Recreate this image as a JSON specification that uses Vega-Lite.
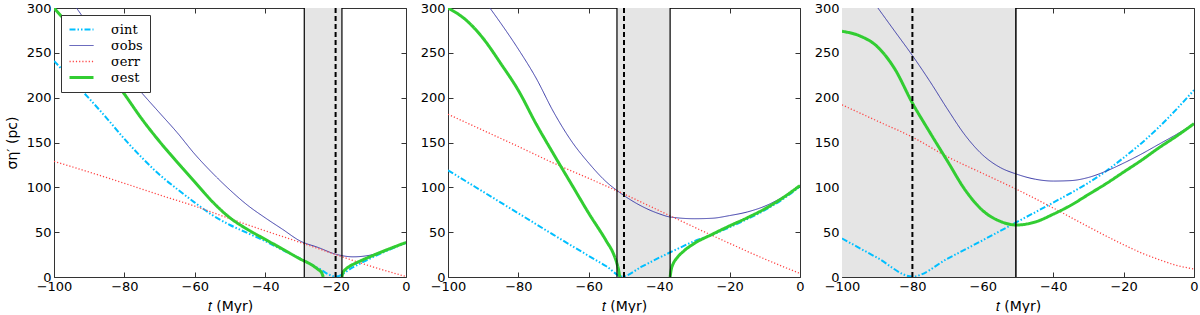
{
"$schema":"https://vega.github.io/schema/vega-lite/v6.json",
"padding":{"left":5,"top":2,"right":2,"bottom":0},
"background":"white",
"config":{"view":{"stroke":null},
 "axis":{"labelFont":"DejaVu Sans","labelFontSize":13,"labelColor":"#000","tickColor":"#333","domainColor":"#333","grid":false,"tickSize":-5,"labelPadding":8,"labelFlush":false,"labelOverlap":false,"titleFont":"DejaVu Sans","titleFontSize":14,"titleFontWeight":"normal","titleColor":"#000"}},
"datasets":{
"curves":[
{"p":1,"s":"int","g":"a","t":-100,"v":241},{"p":1,"s":"int","g":"a","t":-95,"v":220},{"p":1,"s":"int","g":"a","t":-90,"v":199},{"p":1,"s":"int","g":"a","t":-85,"v":177},{"p":1,"s":"int","g":"a","t":-80,"v":154},{"p":1,"s":"int","g":"a","t":-75,"v":133},{"p":1,"s":"int","g":"a","t":-70,"v":114},{"p":1,"s":"int","g":"a","t":-65,"v":98},{"p":1,"s":"int","g":"a","t":-60,"v":83},{"p":1,"s":"int","g":"a","t":-55,"v":69},{"p":1,"s":"int","g":"a","t":-50,"v":58},{"p":1,"s":"int","g":"a","t":-45,"v":49},{"p":1,"s":"int","g":"a","t":-40,"v":40},{"p":1,"s":"int","g":"a","t":-35,"v":30},{"p":1,"s":"int","g":"a","t":-30,"v":20.5},{"p":1,"s":"int","g":"a","t":-25,"v":10},{"p":1,"s":"int","g":"a","t":-20,"v":0.5},{"p":1,"s":"int","g":"a","t":-15,"v":11},{"p":1,"s":"int","g":"a","t":-10,"v":21},{"p":1,"s":"int","g":"a","t":-5,"v":30},{"p":1,"s":"int","g":"a","t":0,"v":38},
{"p":1,"s":"obs","g":"a","t":-93.6,"v":300},{"p":1,"s":"obs","g":"a","t":-90,"v":280},{"p":1,"s":"obs","g":"a","t":-85,"v":253},{"p":1,"s":"obs","g":"a","t":-80,"v":228},{"p":1,"s":"obs","g":"a","t":-75,"v":205},{"p":1,"s":"obs","g":"a","t":-70,"v":183},{"p":1,"s":"obs","g":"a","t":-65,"v":161},{"p":1,"s":"obs","g":"a","t":-60,"v":137},{"p":1,"s":"obs","g":"a","t":-55,"v":116},{"p":1,"s":"obs","g":"a","t":-50,"v":97},{"p":1,"s":"obs","g":"a","t":-45,"v":80},{"p":1,"s":"obs","g":"a","t":-40,"v":66},{"p":1,"s":"obs","g":"a","t":-35,"v":53},{"p":1,"s":"obs","g":"a","t":-30,"v":40},{"p":1,"s":"obs","g":"a","t":-25,"v":33},{"p":1,"s":"obs","g":"a","t":-20,"v":25.5},{"p":1,"s":"obs","g":"a","t":-15,"v":22.5},{"p":1,"s":"obs","g":"a","t":-10,"v":24.5},{"p":1,"s":"obs","g":"a","t":-5,"v":31},{"p":1,"s":"obs","g":"a","t":0,"v":39},
{"p":1,"s":"err","g":"a","t":-100,"v":129},{"p":1,"s":"err","g":"a","t":-90,"v":117},{"p":1,"s":"err","g":"a","t":-80,"v":104.5},{"p":1,"s":"err","g":"a","t":-70,"v":91.5},{"p":1,"s":"err","g":"a","t":-60,"v":79},{"p":1,"s":"err","g":"a","t":-50,"v":65},{"p":1,"s":"err","g":"a","t":-40,"v":51.5},{"p":1,"s":"err","g":"a","t":-30,"v":38.5},{"p":1,"s":"err","g":"a","t":-20,"v":25},{"p":1,"s":"err","g":"a","t":-10,"v":12},{"p":1,"s":"err","g":"a","t":0,"v":0.5},
{"p":1,"s":"est","g":"a","t":-100,"v":300},{"p":1,"s":"est","g":"a","t":-95,"v":278},{"p":1,"s":"est","g":"a","t":-90,"v":255},{"p":1,"s":"est","g":"a","t":-85,"v":231},{"p":1,"s":"est","g":"a","t":-80,"v":204},{"p":1,"s":"est","g":"a","t":-75,"v":176},{"p":1,"s":"est","g":"a","t":-70,"v":151},{"p":1,"s":"est","g":"a","t":-65,"v":128},{"p":1,"s":"est","g":"a","t":-60,"v":106},{"p":1,"s":"est","g":"a","t":-55,"v":84},{"p":1,"s":"est","g":"a","t":-50,"v":66},{"p":1,"s":"est","g":"a","t":-45,"v":53},{"p":1,"s":"est","g":"a","t":-40,"v":42},{"p":1,"s":"est","g":"a","t":-35,"v":31},{"p":1,"s":"est","g":"a","t":-30,"v":20},{"p":1,"s":"est","g":"a","t":-27,"v":14},{"p":1,"s":"est","g":"a","t":-25,"v":8.5},{"p":1,"s":"est","g":"a","t":-24,"v":5},{"p":1,"s":"est","g":"a","t":-23.5,"v":0},
{"p":1,"s":"est","g":"b","t":-18.2,"v":0},{"p":1,"s":"est","g":"b","t":-17.9,"v":5},{"p":1,"s":"est","g":"b","t":-17.2,"v":8.5},{"p":1,"s":"est","g":"b","t":-16,"v":12},{"p":1,"s":"est","g":"b","t":-14,"v":16},{"p":1,"s":"est","g":"b","t":-10,"v":23},{"p":1,"s":"est","g":"b","t":-5,"v":31},{"p":1,"s":"est","g":"b","t":0,"v":38.5},
{"p":2,"s":"int","g":"a","t":-100,"v":119},{"p":2,"s":"int","g":"a","t":-90,"v":95},{"p":2,"s":"int","g":"a","t":-80,"v":71},{"p":2,"s":"int","g":"a","t":-70,"v":47},{"p":2,"s":"int","g":"a","t":-60,"v":23.5},{"p":2,"s":"int","g":"a","t":-55,"v":12},{"p":2,"s":"int","g":"a","t":-50.5,"v":0.5},{"p":2,"s":"int","g":"a","t":-45,"v":11.5},{"p":2,"s":"int","g":"a","t":-40,"v":21.5},{"p":2,"s":"int","g":"a","t":-35,"v":31},{"p":2,"s":"int","g":"a","t":-30,"v":40},{"p":2,"s":"int","g":"a","t":-25,"v":47},{"p":2,"s":"int","g":"a","t":-20,"v":55.5},{"p":2,"s":"int","g":"a","t":-15,"v":64.5},{"p":2,"s":"int","g":"a","t":-10,"v":74.5},{"p":2,"s":"int","g":"a","t":-5,"v":86.5},{"p":2,"s":"int","g":"a","t":0,"v":101},
{"p":2,"s":"obs","g":"a","t":-88.1,"v":300},{"p":2,"s":"obs","g":"a","t":-85,"v":283},{"p":2,"s":"obs","g":"a","t":-80,"v":254},{"p":2,"s":"obs","g":"a","t":-75,"v":222},{"p":2,"s":"obs","g":"a","t":-70,"v":184},{"p":2,"s":"obs","g":"a","t":-65,"v":152},{"p":2,"s":"obs","g":"a","t":-60,"v":127},{"p":2,"s":"obs","g":"a","t":-55,"v":106},{"p":2,"s":"obs","g":"a","t":-51.7,"v":95.6},{"p":2,"s":"obs","g":"a","t":-45,"v":79},{"p":2,"s":"obs","g":"a","t":-40,"v":70.5},{"p":2,"s":"obs","g":"a","t":-37,"v":67},{"p":2,"s":"obs","g":"a","t":-30,"v":65},{"p":2,"s":"obs","g":"a","t":-25,"v":65.5},{"p":2,"s":"obs","g":"a","t":-20,"v":68.5},{"p":2,"s":"obs","g":"a","t":-15,"v":72.5},{"p":2,"s":"obs","g":"a","t":-10,"v":79},{"p":2,"s":"obs","g":"a","t":-5,"v":89},{"p":2,"s":"obs","g":"a","t":0,"v":102},
{"p":2,"s":"err","g":"a","t":-100,"v":181.5},{"p":2,"s":"err","g":"a","t":-90,"v":163.5},{"p":2,"s":"err","g":"a","t":-80,"v":145.5},{"p":2,"s":"err","g":"a","t":-70,"v":127},{"p":2,"s":"err","g":"a","t":-60,"v":110},{"p":2,"s":"err","g":"a","t":-50,"v":92.5},{"p":2,"s":"err","g":"a","t":-40,"v":74},{"p":2,"s":"err","g":"a","t":-30,"v":55.5},{"p":2,"s":"err","g":"a","t":-20,"v":37.5},{"p":2,"s":"err","g":"a","t":-10,"v":20},{"p":2,"s":"err","g":"a","t":0,"v":4},
{"p":2,"s":"est","g":"a","t":-100,"v":300},{"p":2,"s":"est","g":"a","t":-95,"v":287},{"p":2,"s":"est","g":"a","t":-90,"v":266},{"p":2,"s":"est","g":"a","t":-85,"v":238},{"p":2,"s":"est","g":"a","t":-80,"v":208},{"p":2,"s":"est","g":"a","t":-75,"v":171},{"p":2,"s":"est","g":"a","t":-70,"v":137},{"p":2,"s":"est","g":"a","t":-65,"v":104},{"p":2,"s":"est","g":"a","t":-60,"v":71},{"p":2,"s":"est","g":"a","t":-55,"v":40},{"p":2,"s":"est","g":"a","t":-53,"v":26},{"p":2,"s":"est","g":"a","t":-52,"v":15},{"p":2,"s":"est","g":"a","t":-51.5,"v":7},{"p":2,"s":"est","g":"a","t":-51.2,"v":0},
{"p":2,"s":"est","g":"b","t":-36.9,"v":0},{"p":2,"s":"est","g":"b","t":-36.6,"v":8},{"p":2,"s":"est","g":"b","t":-36,"v":15},{"p":2,"s":"est","g":"b","t":-35,"v":21},{"p":2,"s":"est","g":"b","t":-33,"v":29},{"p":2,"s":"est","g":"b","t":-30,"v":37.5},{"p":2,"s":"est","g":"b","t":-25,"v":47.5},{"p":2,"s":"est","g":"b","t":-20,"v":57},{"p":2,"s":"est","g":"b","t":-15,"v":66},{"p":2,"s":"est","g":"b","t":-10,"v":76},{"p":2,"s":"est","g":"b","t":-5,"v":88},{"p":2,"s":"est","g":"b","t":0,"v":102},
{"p":3,"s":"int","g":"a","t":-100,"v":43},{"p":3,"s":"int","g":"a","t":-90,"v":21.5},{"p":3,"s":"int","g":"a","t":-80,"v":0.5},{"p":3,"s":"int","g":"a","t":-70,"v":20.5},{"p":3,"s":"int","g":"a","t":-60,"v":41},{"p":3,"s":"int","g":"a","t":-50,"v":62},{"p":3,"s":"int","g":"a","t":-40,"v":83},{"p":3,"s":"int","g":"a","t":-30,"v":105},{"p":3,"s":"int","g":"a","t":-25,"v":118},{"p":3,"s":"int","g":"a","t":-20,"v":133},{"p":3,"s":"int","g":"a","t":-15,"v":149},{"p":3,"s":"int","g":"a","t":-10,"v":167},{"p":3,"s":"int","g":"a","t":-5,"v":187},{"p":3,"s":"int","g":"a","t":0,"v":208.5},
{"p":3,"s":"obs","g":"a","t":-89.8,"v":300},{"p":3,"s":"obs","g":"a","t":-85,"v":274},{"p":3,"s":"obs","g":"a","t":-80,"v":247},{"p":3,"s":"obs","g":"a","t":-75,"v":218},{"p":3,"s":"obs","g":"a","t":-70,"v":187},{"p":3,"s":"obs","g":"a","t":-65,"v":158},{"p":3,"s":"obs","g":"a","t":-60,"v":136},{"p":3,"s":"obs","g":"a","t":-55,"v":122},{"p":3,"s":"obs","g":"a","t":-50.6,"v":115},{"p":3,"s":"obs","g":"a","t":-45,"v":109},{"p":3,"s":"obs","g":"a","t":-40,"v":107},{"p":3,"s":"obs","g":"a","t":-35,"v":107.5},{"p":3,"s":"obs","g":"a","t":-30,"v":111},{"p":3,"s":"obs","g":"a","t":-25,"v":118},{"p":3,"s":"obs","g":"a","t":-20,"v":127},{"p":3,"s":"obs","g":"a","t":-15,"v":137},{"p":3,"s":"obs","g":"a","t":-10,"v":148},{"p":3,"s":"obs","g":"a","t":-5,"v":159},{"p":3,"s":"obs","g":"a","t":0,"v":171},
{"p":3,"s":"err","g":"a","t":-100,"v":192},{"p":3,"s":"err","g":"a","t":-90,"v":174},{"p":3,"s":"err","g":"a","t":-80,"v":156},{"p":3,"s":"err","g":"a","t":-70,"v":134},{"p":3,"s":"err","g":"a","t":-60,"v":115.5},{"p":3,"s":"err","g":"a","t":-50,"v":97},{"p":3,"s":"err","g":"a","t":-40,"v":77},{"p":3,"s":"err","g":"a","t":-30,"v":56},{"p":3,"s":"err","g":"a","t":-20,"v":36},{"p":3,"s":"err","g":"a","t":-15,"v":27},{"p":3,"s":"err","g":"a","t":-10,"v":19.5},{"p":3,"s":"err","g":"a","t":-5,"v":13},{"p":3,"s":"err","g":"a","t":0,"v":9},
{"p":3,"s":"est","g":"a","t":-100,"v":274},{"p":3,"s":"est","g":"a","t":-95,"v":269},{"p":3,"s":"est","g":"a","t":-90,"v":257},{"p":3,"s":"est","g":"a","t":-85,"v":232},{"p":3,"s":"est","g":"a","t":-80,"v":194},{"p":3,"s":"est","g":"a","t":-75,"v":161},{"p":3,"s":"est","g":"a","t":-70,"v":129},{"p":3,"s":"est","g":"a","t":-65,"v":97},{"p":3,"s":"est","g":"a","t":-60,"v":74},{"p":3,"s":"est","g":"a","t":-55,"v":62},{"p":3,"s":"est","g":"a","t":-50.5,"v":58},{"p":3,"s":"est","g":"a","t":-45,"v":61.5},{"p":3,"s":"est","g":"a","t":-40,"v":70},{"p":3,"s":"est","g":"a","t":-35,"v":80},{"p":3,"s":"est","g":"a","t":-30,"v":92},{"p":3,"s":"est","g":"a","t":-25,"v":104},{"p":3,"s":"est","g":"a","t":-20,"v":117},{"p":3,"s":"est","g":"a","t":-15,"v":130},{"p":3,"s":"est","g":"a","t":-10,"v":144},{"p":3,"s":"est","g":"a","t":-5,"v":157},{"p":3,"s":"est","g":"a","t":0,"v":171}
],
"bands":[{"p":1,"t0":-28.9,"t1":-18.2},{"p":2,"t0":-52,"t1":-36.9},{"p":3,"t0":-100,"t1":-50.6}],
"vlines":[{"p":1,"k":"solid","t":-28.9},{"p":1,"k":"solid","t":-18.2},{"p":1,"k":"dash","t":-20},{"p":2,"k":"solid","t":-52},{"p":2,"k":"solid","t":-36.9},{"p":2,"k":"dash","t":-50},{"p":3,"k":"solid","t":-50.6},{"p":3,"k":"dash","t":-80}]
},
"hconcat":[
{"width":352,"height":269,
 "resolve":{"axis":{"x":"independent","y":"independent"}},
 "layer":[
  {"data":{"name":"bands"},"transform":[{"filter":"datum.p==1"}],"mark":{"type":"rect","color":"#e5e5e5"},
   "encoding":{"x":{"field":"t0","type":"quantitative","scale":{"domain":[-100,0],"nice":false},"axis":{"orient":"top","labels":false,"title":null,"values":[-100,-80,-60,-40,-20,0]}},"x2":{"field":"t1"},
    "y":{"datum":0,"type":"quantitative","scale":{"domain":[0,300],"nice":false},"axis":{"orient":"right","labels":false,"title":null,"values":[0,50,100,150,200,250,300]}},"y2":{"datum":300}}},
  {"data":{"name":"curves"},"transform":[{"filter":"datum.p==1"}],"mark":{"type":"line","interpolate":"monotone","clip":true},
   "encoding":{"x":{"field":"t","type":"quantitative","axis":{"orient":"bottom","title":"𝑡 (Myr)","values":[-100,-80,-60,-40,-20,0],"titlePadding":6}},
    "y":{"field":"v","type":"quantitative","axis":{"orient":"left","title":"ση′ (pc)","values":[0,50,100,150,200,250,300],"titlePadding":7}},
    "color":{"field":"s","type":"nominal","scale":{"domain":["int","obs","err","est"],"range":["#00bfff","#3a3aa8","#ff4444","#32cd32"]},
      "legend":{"title":null,"orient":"top-left","offset":7,"symbolType":"stroke","symbolSize":576,"clipHeight":15,"labelFont":"DejaVu Serif","labelFontSize":13,"labelExpr":"datum.label=='int'?'σint':datum.label=='obs'?'σobs':datum.label=='err'?'σerr':'σest'","strokeColor":"#333","fillColor":"#fff","padding":7,"rowPadding":1,"labelOffset":16}},
    "strokeDash":{"field":"s","type":"nominal","scale":{"domain":["int","obs","err","est"],"range":[[6,2,1.5,2,1.5,2],[1,0],[1.2,2],[1,0]]},
      "legend":{"title":null,"orient":"top-left","offset":7,"symbolType":"stroke","symbolSize":576,"clipHeight":15,"labelFont":"DejaVu Serif","labelFontSize":13,"labelExpr":"datum.label=='int'?'σint':datum.label=='obs'?'σobs':datum.label=='err'?'σerr':'σest'","strokeColor":"#333","fillColor":"#fff","padding":7,"rowPadding":1,"labelOffset":16}},
    "strokeWidth":{"field":"s","type":"nominal","scale":{"type":"ordinal","domain":["int","obs","err","est"],"range":[2,1,1.3,3]},
      "legend":{"title":null,"orient":"top-left","offset":7,"symbolType":"stroke","symbolSize":576,"clipHeight":15,"labelFont":"DejaVu Serif","labelFontSize":13,"labelExpr":"datum.label=='int'?'σint':datum.label=='obs'?'σobs':datum.label=='err'?'σerr':'σest'","strokeColor":"#333","fillColor":"#fff","padding":7,"rowPadding":1,"labelOffset":16}},
    "detail":{"field":"g"}}},
  {"data":{"name":"vlines"},"transform":[{"filter":"datum.p==1 && datum.k=='solid'"}],"mark":{"type":"rule","color":"#000","strokeWidth":1.2},"encoding":{"x":{"field":"t","type":"quantitative","axis":null}}},
  {"data":{"name":"vlines"},"transform":[{"filter":"datum.p==1 && datum.k=='dash'"}],"mark":{"type":"rule","color":"#000","strokeWidth":2,"strokeDash":[5,3]},"encoding":{"x":{"field":"t","type":"quantitative","axis":null}}}
 ]},
{"width":352,"height":269,
 "resolve":{"axis":{"x":"independent","y":"independent"}},
 "layer":[
  {"data":{"name":"bands"},"transform":[{"filter":"datum.p==2"}],"mark":{"type":"rect","color":"#e5e5e5"},
   "encoding":{"x":{"field":"t0","type":"quantitative","scale":{"domain":[-100,0],"nice":false},"axis":{"orient":"top","labels":false,"title":null,"values":[-100,-80,-60,-40,-20,0]}},"x2":{"field":"t1"},
    "y":{"datum":0,"type":"quantitative","scale":{"domain":[0,300],"nice":false},"axis":{"orient":"right","labels":false,"title":null,"values":[0,50,100,150,200,250,300]}},"y2":{"datum":300}}},
  {"data":{"name":"curves"},"transform":[{"filter":"datum.p==2"}],"mark":{"type":"line","interpolate":"monotone","clip":true},
   "encoding":{"x":{"field":"t","type":"quantitative","axis":{"orient":"bottom","title":"𝑡 (Myr)","values":[-100,-80,-60,-40,-20,0],"titlePadding":6}},
    "y":{"field":"v","type":"quantitative","axis":{"orient":"left","title":null,"values":[0,50,100,150,200,250,300]}},
    "color":{"field":"s","type":"nominal","scale":{"domain":["int","obs","err","est"],"range":["#00bfff","#3a3aa8","#ff4444","#32cd32"]},"legend":null},
    "strokeDash":{"field":"s","type":"nominal","scale":{"domain":["int","obs","err","est"],"range":[[6,2,1.5,2,1.5,2],[1,0],[1.2,2],[1,0]]},"legend":null},
    "strokeWidth":{"field":"s","type":"nominal","scale":{"type":"ordinal","domain":["int","obs","err","est"],"range":[2,1,1.3,3]},"legend":null},
    "detail":{"field":"g"}}},
  {"data":{"name":"vlines"},"transform":[{"filter":"datum.p==2 && datum.k=='solid'"}],"mark":{"type":"rule","color":"#000","strokeWidth":1.2},"encoding":{"x":{"field":"t","type":"quantitative","axis":null}}},
  {"data":{"name":"vlines"},"transform":[{"filter":"datum.p==2 && datum.k=='dash'"}],"mark":{"type":"rule","color":"#000","strokeWidth":2,"strokeDash":[5,3]},"encoding":{"x":{"field":"t","type":"quantitative","axis":null}}}
 ]},
{"width":352,"height":269,
 "resolve":{"axis":{"x":"independent","y":"independent"}},
 "layer":[
  {"data":{"name":"bands"},"transform":[{"filter":"datum.p==3"}],"mark":{"type":"rect","color":"#e5e5e5"},
   "encoding":{"x":{"field":"t0","type":"quantitative","scale":{"domain":[-100,0],"nice":false},"axis":{"orient":"top","labels":false,"title":null,"values":[-100,-80,-60,-40,-20,0]}},"x2":{"field":"t1"},
    "y":{"datum":0,"type":"quantitative","scale":{"domain":[0,300],"nice":false},"axis":{"orient":"right","labels":false,"title":null,"values":[0,50,100,150,200,250,300]}},"y2":{"datum":300}}},
  {"data":{"name":"curves"},"transform":[{"filter":"datum.p==3"}],"mark":{"type":"line","interpolate":"monotone","clip":true},
   "encoding":{"x":{"field":"t","type":"quantitative","axis":{"orient":"bottom","title":"𝑡 (Myr)","values":[-100,-80,-60,-40,-20,0],"titlePadding":6}},
    "y":{"field":"v","type":"quantitative","axis":{"orient":"left","title":null,"values":[0,50,100,150,200,250,300]}},
    "color":{"field":"s","type":"nominal","scale":{"domain":["int","obs","err","est"],"range":["#00bfff","#3a3aa8","#ff4444","#32cd32"]},"legend":null},
    "strokeDash":{"field":"s","type":"nominal","scale":{"domain":["int","obs","err","est"],"range":[[6,2,1.5,2,1.5,2],[1,0],[1.2,2],[1,0]]},"legend":null},
    "strokeWidth":{"field":"s","type":"nominal","scale":{"type":"ordinal","domain":["int","obs","err","est"],"range":[2,1,1.3,3]},"legend":null},
    "detail":{"field":"g"}}},
  {"data":{"name":"vlines"},"transform":[{"filter":"datum.p==3 && datum.k=='solid'"}],"mark":{"type":"rule","color":"#000","strokeWidth":1.5},"encoding":{"x":{"field":"t","type":"quantitative","axis":null}}},
  {"data":{"name":"vlines"},"transform":[{"filter":"datum.p==3 && datum.k=='dash'"}],"mark":{"type":"rule","color":"#000","strokeWidth":2,"strokeDash":[5,3]},"encoding":{"x":{"field":"t","type":"quantitative","axis":null}}}
 ]}
],
"spacing":42,
"bounds":"flush",
"resolve":{"scale":{"color":"independent","strokeDash":"independent","strokeWidth":"independent"},"legend":{"color":"independent","strokeDash":"independent","strokeWidth":"independent"}}
}
